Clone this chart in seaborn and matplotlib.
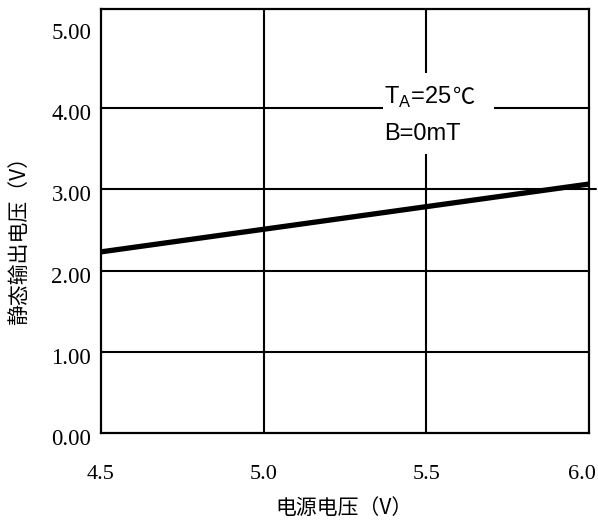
import pandas as pd
import matplotlib
matplotlib.use("Agg")
import matplotlib.pyplot as plt
import matplotlib.transforms as mtransforms
from matplotlib.patches import Rectangle
import seaborn as sns


# values
supply_voltage = [4.5, 6.0]
quiescent_output = [2.23, 3.065]

x_ticks = [4.5, 5.0, 5.5, 6.0]
x_tick_labels = ["4.5", "5.0", "5.5", "6.0"]
y_ticks = [0, 1, 2, 3, 4, 5]
y_tick_labels = ["0.00", "1.00", "2.00", "3.00", "4.00", "5.00"]
x_grid = [5.0, 5.5]
y_grid = [1, 2, 3, 4]

x_label = "电源电压（V）"
y_label = "静态输出电压（V）"
note_temp = "T$_\\mathregular{A}$=25"
note_unit = "℃"
note_field = "B=0mT"

CJK = ["Noto Sans CJK SC", "DejaVu Sans"]
SERIF = ["Liberation Serif", "DejaVu Serif"]
SANS = ["Liberation Sans", "DejaVu Sans"]


def draw_chart():
    sns.set_theme(style="white")
    plt.rcParams["font.family"] = SANS
    plt.rcParams["mathtext.fontset"] = "custom"
    plt.rcParams["mathtext.rm"] = "Liberation Sans"

    df = pd.DataFrame({"vcc": supply_voltage, "vout": quiescent_output})

    fig, ax = plt.subplots(figsize=(5.98, 5.20), dpi=100)
    fig.subplots_adjust(left=101 / 598, right=589 / 598,
                        top=1 - 9 / 520, bottom=1 - 433 / 520)

    for xv in x_grid:
        ax.axvline(xv, color="black", lw=1.5, zorder=1)
    for yv in y_grid:
        # the 3.00 line runs a little past the right border in the original
        xmax = 1.015 if yv == 3 else 1.0
        ax.axhline(yv, xmax=xmax, color="black", lw=1.5, zorder=1,
                   clip_on=False)

    sns.lineplot(data=df, x="vcc", y="vout", color="black", lw=3.8,
                 ax=ax, zorder=3)

    # white patch that breaks the grid behind the note
    ax.add_patch(Rectangle((0.578, 0.658), 0.2275, 0.191,
                           transform=ax.transAxes, facecolor="white",
                           edgecolor="none", zorder=2))
    t1 = ax.text(0.580, (433 - 97) / 424, note_temp, transform=ax.transAxes,
                 fontsize=17, va="center", ha="left", zorder=4,
                 color="black")
    ax.annotate(note_unit, xy=(1, 0.5), xycoords=t1, xytext=(1, 0),
                textcoords="offset points", fontsize=16, family=CJK,
                va="center", ha="left", zorder=4, color="black")
    ax.text(0.580, (433 - 134) / 424, note_field, transform=ax.transAxes,
            fontsize=17, va="center", ha="left", zorder=4, color="black")

    ax.set_xlim(4.5, 6.0)
    ax.set_ylim(0, 5.22)
    ax.set_xticks(x_ticks)
    ax.set_xticklabels(x_tick_labels, family=SERIF, fontsize=16)
    ax.set_yticks(y_ticks)
    ax.set_yticklabels(y_tick_labels, family=SERIF, fontsize=16.5)
    ax.tick_params(axis="x", length=0, pad=23, colors="black")
    ax.tick_params(axis="y", length=0, pad=7, colors="black")

    down = mtransforms.ScaledTranslation(0, -4 / 100, fig.dpi_scale_trans)
    for lbl in ax.get_yticklabels():
        lbl.set_transform(lbl.get_transform() + down)
    last = ax.get_xticklabels()[-1]
    left_shift = mtransforms.ScaledTranslation(-7 / 100, 0,
                                               fig.dpi_scale_trans)
    last.set_transform(last.get_transform() + left_shift)

    ax.set_xlabel(x_label, family=CJK, fontsize=15, color="black")
    ax.set_ylabel(y_label, family=CJK, fontsize=15, color="black",
                  va="center")
    ax.xaxis.set_label_coords(0.497, -0.15)
    ax.yaxis.set_label_coords(-0.168, 0.465)

    for side in ax.spines.values():
        side.set_color("black")
        side.set_linewidth(1.6)
        side.set_visible(True)

    fig.savefig("out.png", dpi=100, facecolor="white")
    plt.close(fig)


if __name__ == "__main__":
    draw_chart()
